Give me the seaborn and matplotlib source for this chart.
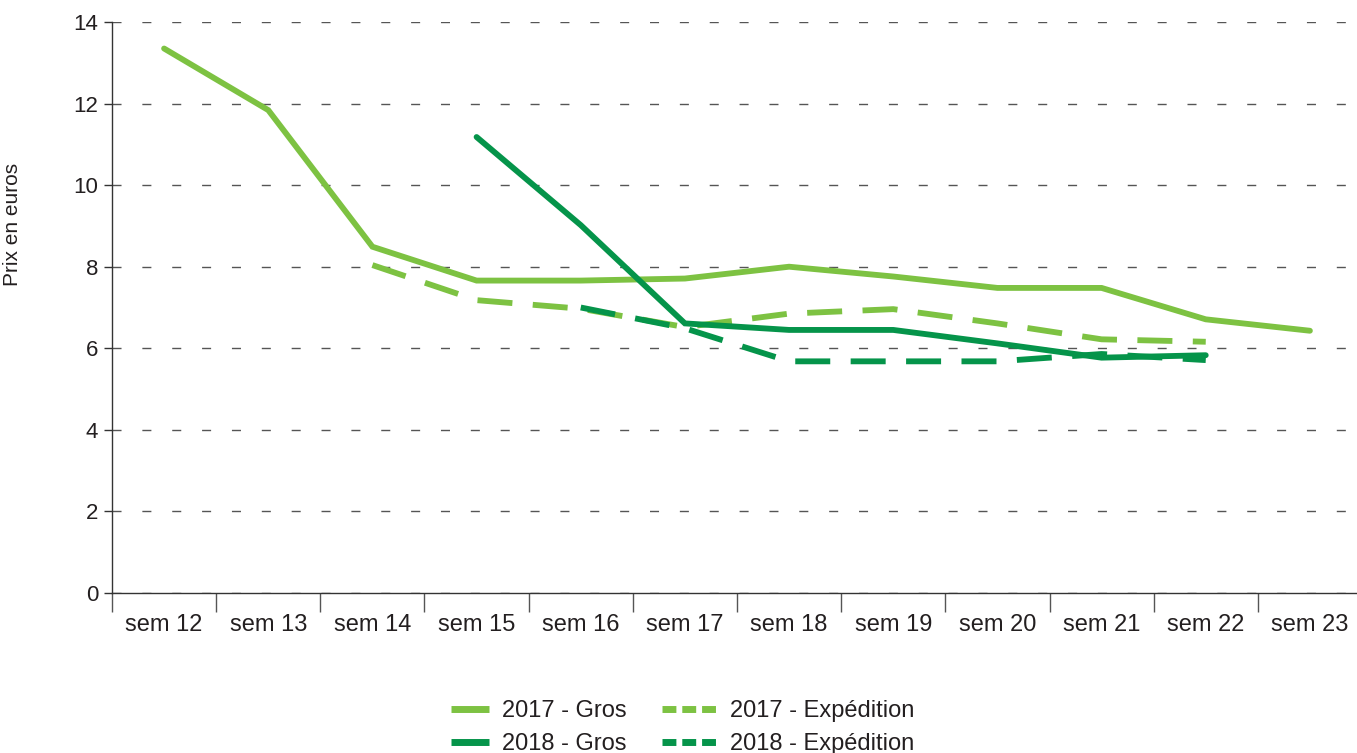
import seaborn as sns
import matplotlib.pyplot as plt
import pandas as pd
import numpy as np
from matplotlib.lines import Line2D

semaines = ["sem 12", "sem 13", "sem 14", "sem 15", "sem 16", "sem 17",
            "sem 18", "sem 19", "sem 20", "sem 21", "sem 22", "sem 23"]
nan = np.nan
gros_2017 = [13.35, 11.84, 8.49, 7.66, 7.66, 7.71, 8.0, 7.76, 7.48, 7.48, 6.71, 6.43]
exped_2017 = [nan, nan, 8.04, 7.18, 6.97, 6.52, 6.85, 6.96, 6.61, 6.22, 6.16, nan]
gros_2018 = [nan, nan, nan, 11.18, 9.02, 6.61, 6.45, 6.45, 6.12, 5.77, 5.83, nan]
exped_2018 = [nan, nan, nan, nan, 7.0, 6.49, 5.68, 5.68, 5.68, 5.86, 5.71, nan]

series = {
    "2017 - Gros": gros_2017,
    "2017 - Expédition": exped_2017,
    "2018 - Gros": gros_2018,
    "2018 - Expédition": exped_2018,
}
vert_clair = "#7DC242"
vert_fonce = "#05944A"
couleurs = {"2017 - Gros": vert_clair, "2017 - Expédition": vert_clair,
            "2018 - Gros": vert_fonce, "2018 - Expédition": vert_fonce}
tirets = {"2017 - Gros": "", "2017 - Expédition": (6.0, 3.5),
          "2018 - Gros": "", "2018 - Expédition": (6.0, 3.5)}

rows = []
for nom, vals in series.items():
    for i, v in enumerate(vals):
        if not np.isnan(v):
            rows.append({"pos": i, "prix": v, "serie": nom})
df = pd.DataFrame(rows)

sns.set_theme(style="white")
plt.rcParams['font.family'] = ['Liberation Sans', 'DejaVu Sans']
texte = "#231F20"

fig = plt.figure(figsize=(13.57, 7.53), dpi=100)
ax = fig.add_axes([112 / 1357, 1 - 593 / 753, 1250 / 1357, 571 / 753])

sns.lineplot(data=df, x="pos", y="prix", hue="serie", style="serie",
             hue_order=list(series), style_order=list(series),
             palette=couleurs, dashes=tirets, linewidth=4.2,
             legend=False, ax=ax, estimator=None)
for ln in ax.lines:
    ln.set_dash_capstyle("butt")
    ln.set_solid_joinstyle("miter")

ax.set_xlim(-0.5, 11.5)
ax.set_ylim(0, 14)
ax.set_yticks(range(0, 15, 2))
ax.set_xticks(range(len(semaines)))
ax.set_xticklabels(semaines)
ax.set_xticks(np.arange(-0.5, 12, 1), minor=True)
ax.tick_params(axis="x", which="major", length=0, pad=15, labelsize=17, labelcolor=texte)
ax.tick_params(axis="x", which="minor", length=14, width=1, color="#555555", direction="out", bottom=True)
ax.tick_params(axis="y", length=6, width=1, color="#333333", pad=4, labelsize=16,
               labelcolor=texte, left=True)

ax.yaxis.grid(True, color="#555555", linewidth=1, linestyle=(0, (6.5, 15)))
ax.xaxis.grid(False)
ax.set_axisbelow(True)
for s in ["top", "right"]:
    ax.spines[s].set_visible(False)
for s in ["left", "bottom"]:
    ax.spines[s].set_color("#333333")
    ax.spines[s].set_linewidth(1)

ax.set_xlabel("")
ax.set_ylabel("Prix en euros", fontsize=15, color=texte)
ax.yaxis.set_label_coords(-0.072, 0.645)

# legends: solid handles shorter than dashed ones
pleins = [Line2D([], [], color=vert_clair, lw=5, solid_capstyle="butt"),
          Line2D([], [], color=vert_fonce, lw=5, solid_capstyle="butt")]
pointilles = [Line2D([], [], color=vert_clair, lw=5, linestyle=(0, (2.0, 0.85)), dash_capstyle="butt"),
              Line2D([], [], color=vert_fonce, lw=5, linestyle=(0, (2.0, 0.85)), dash_capstyle="butt")]
common = dict(frameon=False, borderpad=0, borderaxespad=0, handletextpad=0.55,
              labelspacing=0.48, fontsize=17, loc="upper left", labelcolor=texte)
fig.legend(pleins, ["2017 - Gros", "2018 - Gros"], handlelength=1.61,
           bbox_to_anchor=(451 / 1357, 1 - 700 / 753), **common)
fig.legend(pointilles, ["2017 - Expédition", "2018 - Expédition"], handlelength=2.33,
           bbox_to_anchor=(662 / 1357, 1 - 700 / 753), **common)

fig.savefig("out.png", dpi=100)
